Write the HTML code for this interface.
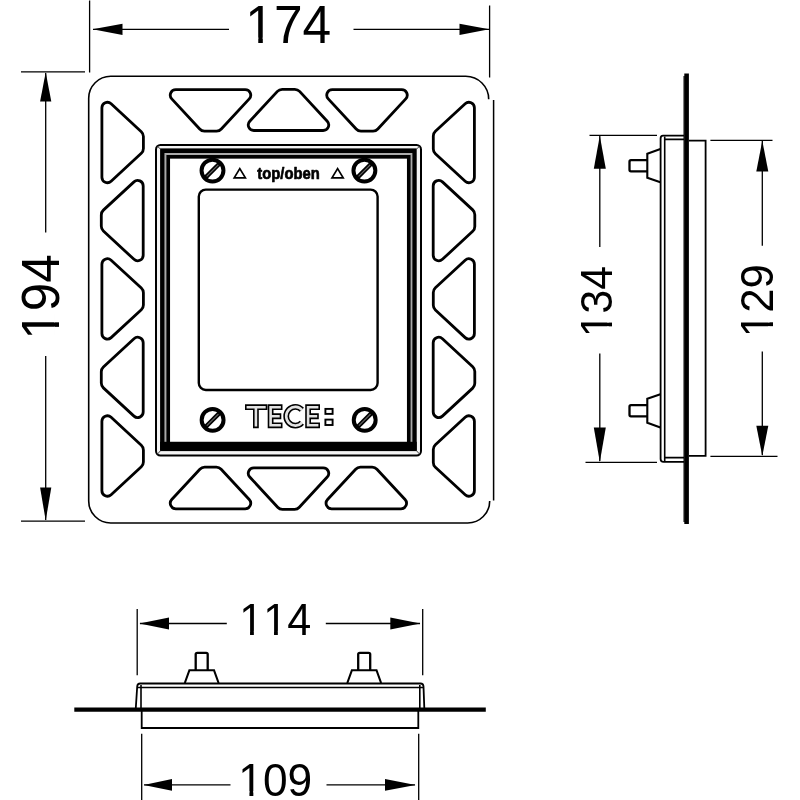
<!DOCTYPE html><html><head><meta charset="utf-8"><style>html,body{margin:0;padding:0;background:#fff}svg{display:block;will-change:transform}text{font-family:"Liberation Sans",sans-serif;fill:#000;font-kerning:none}</style></head><body>
<svg width="800" height="800" viewBox="0 0 800 800">
<rect width="800" height="800" fill="#fff"/>
<g fill="none" stroke="#000" stroke-linecap="butt">
<path d="M488.7,99.3 A23,23 0 0 0 465.7,76.3 L110.7,76.3 A22,22 0 0 0 88.7,98.3 L88.7,501 A22,22 0 0 0 110.7,523 L467.7,523 A22,22 0 0 0 489.7,501" stroke-width="1.6"/>
<path d="M493.6,100 L493.6,500.5" stroke-width="1.5"/>
<path d="M101.90,107.80 A5.5,5.5 0 0 1 111.13,103.76 L141.31,131.68 A6.5,6.5 0 0 1 143.40,136.45 L143.40,148.55 A6.5,6.5 0 0 1 141.31,153.32 L111.13,181.24 A5.5,5.5 0 0 1 101.90,177.20 Z M143.20,185.90 A5.5,5.5 0 0 0 133.97,181.86 L103.39,210.15 A6.5,6.5 0 0 0 101.30,214.92 L101.30,226.28 A6.5,6.5 0 0 0 103.39,231.05 L133.97,259.34 A5.5,5.5 0 0 0 143.20,255.30 Z M101.90,264.20 A5.5,5.5 0 0 1 111.13,260.16 L141.31,288.08 A6.5,6.5 0 0 1 143.40,292.85 L143.40,304.95 A6.5,6.5 0 0 1 141.31,309.72 L111.13,337.64 A5.5,5.5 0 0 1 101.90,333.60 Z M143.20,342.70 A5.5,5.5 0 0 0 133.97,338.66 L103.39,366.95 A6.5,6.5 0 0 0 101.30,371.72 L101.30,383.08 A6.5,6.5 0 0 0 103.39,387.85 L133.97,416.14 A5.5,5.5 0 0 0 143.20,412.10 Z M101.90,421.30 A5.5,5.5 0 0 1 111.13,417.26 L141.31,445.18 A6.5,6.5 0 0 1 143.40,449.95 L143.40,462.05 A6.5,6.5 0 0 1 141.31,466.82 L111.13,494.74 A5.5,5.5 0 0 1 101.90,490.70 Z M474.40,107.80 A5.5,5.5 0 0 0 465.17,103.76 L435.39,131.31 A6.5,6.5 0 0 0 433.30,136.08 L433.30,148.92 A6.5,6.5 0 0 0 435.39,153.69 L465.17,181.24 A5.5,5.5 0 0 0 474.40,177.20 Z M433.20,185.90 A5.5,5.5 0 0 1 442.43,181.86 L472.71,209.87 A6.5,6.5 0 0 1 474.80,214.64 L474.80,226.56 A6.5,6.5 0 0 1 472.71,231.33 L442.43,259.34 A5.5,5.5 0 0 1 433.20,255.30 Z M474.40,264.20 A5.5,5.5 0 0 0 465.17,260.16 L435.39,287.71 A6.5,6.5 0 0 0 433.30,292.48 L433.30,305.32 A6.5,6.5 0 0 0 435.39,310.09 L465.17,337.64 A5.5,5.5 0 0 0 474.40,333.60 Z M433.20,342.70 A5.5,5.5 0 0 1 442.43,338.66 L472.71,366.67 A6.5,6.5 0 0 1 474.80,371.44 L474.80,383.36 A6.5,6.5 0 0 1 472.71,388.13 L442.43,416.14 A5.5,5.5 0 0 1 433.20,412.10 Z M474.40,421.30 A5.5,5.5 0 0 0 465.17,417.26 L435.39,444.81 A6.5,6.5 0 0 0 433.30,449.58 L433.30,462.42 A6.5,6.5 0 0 0 435.39,467.19 L465.17,494.74 A5.5,5.5 0 0 0 474.40,490.70 Z M175.80,89.60 A5.5,5.5 0 0 0 171.76,98.83 L199.68,129.01 A6.5,6.5 0 0 0 204.45,131.10 L216.55,131.10 A6.5,6.5 0 0 0 221.32,129.01 L249.24,98.83 A5.5,5.5 0 0 0 245.20,89.60 Z M253.80,130.50 A5.5,5.5 0 0 1 249.76,121.27 L277.40,91.39 A6.5,6.5 0 0 1 282.17,89.30 L294.83,89.30 A6.5,6.5 0 0 1 299.60,91.39 L327.24,121.27 A5.5,5.5 0 0 1 323.20,130.50 Z M332.30,89.60 A5.5,5.5 0 0 0 328.26,98.83 L356.18,129.01 A6.5,6.5 0 0 0 360.95,131.10 L373.05,131.10 A6.5,6.5 0 0 0 377.82,129.01 L405.74,98.83 A5.5,5.5 0 0 0 401.70,89.60 Z M175.80,508.80 A5.5,5.5 0 0 1 171.76,499.57 L199.86,469.19 A6.5,6.5 0 0 1 204.63,467.10 L216.37,467.10 A6.5,6.5 0 0 1 221.14,469.19 L249.24,499.57 A5.5,5.5 0 0 1 245.20,508.80 Z M253.80,467.80 A5.5,5.5 0 0 0 249.76,477.03 L277.68,507.21 A6.5,6.5 0 0 0 282.45,509.30 L294.55,509.30 A6.5,6.5 0 0 0 299.32,507.21 L327.24,477.03 A5.5,5.5 0 0 0 323.20,467.80 Z M331.60,508.80 A5.5,5.5 0 0 1 327.56,499.57 L355.66,469.19 A6.5,6.5 0 0 1 360.43,467.10 L372.17,467.10 A6.5,6.5 0 0 1 376.94,469.19 L405.04,499.57 A5.5,5.5 0 0 1 401.00,508.80 Z" stroke-width="2.8"/>
<rect x="156.0" y="144.9" width="265.0" height="310.7" rx="4.5" ry="4.5" stroke-width="2.0" fill="#f4f4f4"/>
<rect x="162.4" y="150.7" width="252.0" height="297.9" stroke-width="4.6" fill="#fff"/>
<rect x="165.7" y="153.95" width="245.7" height="292" stroke="#a8a8a8" stroke-width="1.8"/>
<rect x="168.2" y="156.8" width="240.6" height="287.0" stroke-width="3.7"/>
<rect x="160.1" y="441.8" width="256.6" height="9.3" fill="#000" stroke="none"/>
<path d="M157.2,146.1 L160.6,149.2 M419.8,146.1 L416.4,149.2 M157.2,454.4 L160.6,450.6 M419.8,454.4 L416.4,450.6" stroke-width="0.9" stroke="#333"/>
<rect x="198.8" y="189.6" width="178.8" height="200.4" rx="7" ry="7" stroke-width="2.4"/>
</g>
<circle cx="212.5" cy="170.6" r="10.95" fill="#fff" stroke="#000" stroke-width="4.0"/><line x1="205.2" y1="177.9" x2="219.8" y2="163.29999999999998" stroke="#000" stroke-width="4.4"/><line x1="206.7" y1="176.4" x2="218.3" y2="164.79999999999998" stroke="#666" stroke-width="1.2"/>
<circle cx="364.4" cy="170.6" r="10.95" fill="#fff" stroke="#000" stroke-width="4.0"/><line x1="357.09999999999997" y1="177.9" x2="371.7" y2="163.29999999999998" stroke="#000" stroke-width="4.4"/><line x1="358.59999999999997" y1="176.4" x2="370.2" y2="164.79999999999998" stroke="#666" stroke-width="1.2"/>
<circle cx="212.6" cy="419.9" r="10.95" fill="#fff" stroke="#000" stroke-width="4.0"/><line x1="205.29999999999998" y1="427.2" x2="219.9" y2="412.59999999999997" stroke="#000" stroke-width="4.4"/><line x1="206.79999999999998" y1="425.7" x2="218.4" y2="414.09999999999997" stroke="#666" stroke-width="1.2"/>
<circle cx="364.7" cy="419.9" r="10.95" fill="#fff" stroke="#000" stroke-width="4.0"/><line x1="357.4" y1="427.2" x2="372.0" y2="412.59999999999997" stroke="#000" stroke-width="4.4"/><line x1="358.9" y1="425.7" x2="370.5" y2="414.09999999999997" stroke="#666" stroke-width="1.2"/>
<g fill="#fff" stroke="#000" stroke-width="1.7" stroke-linejoin="miter">
<path d="M234.2,177.8 L245.4,177.8 L239.8,168.6 Z"/>
<path d="M332.0,177.8 L343.2,177.8 L337.6,168.6 Z"/>
</g>
<g transform="translate(257.35,178.88) scale(0.0740,0.0861)"><text font-size="200" font-weight="bold" stroke="#000" stroke-width="8" stroke-linejoin="round">top/oben</text></g>
<path d="M247.9,407.2 L264.40000000000003,407.2 M255.9,407.2 L255.9,425.3 M279.6,407.2 L270.59999999999997,407.2 L270.59999999999997,425.3 L279.6,425.3 M270.59999999999997,416.25 L278.40000000000003,416.25 M317.1,407.2 L308.09999999999997,407.2 L308.09999999999997,425.3 L317.1,425.3 M308.09999999999997,416.25 L315.90000000000003,416.25" fill="none" stroke="#000" stroke-width="5.8" stroke-linecap="square" stroke-linejoin="miter"/><path d="M301.85,409.75 A9.1,9.35 0 1 0 301.85,422.75" fill="none" stroke="#000" stroke-width="5.8" stroke-linecap="butt"/><path d="M247.9,407.2 L264.40000000000003,407.2 M255.9,407.2 L255.9,425.3 M279.6,407.2 L270.59999999999997,407.2 L270.59999999999997,425.3 L279.6,425.3 M270.59999999999997,416.25 L278.40000000000003,416.25 M317.1,407.2 L308.09999999999997,407.2 L308.09999999999997,425.3 L317.1,425.3 M308.09999999999997,416.25 L315.90000000000003,416.25" fill="none" stroke="#e2e2e2" stroke-width="2.6" stroke-linecap="square" stroke-linejoin="miter"/><path d="M302.17,410.12 A9.1,9.35 0 1 0 302.17,422.38" fill="none" stroke="#e2e2e2" stroke-width="2.6" stroke-linecap="butt"/><rect x="325.4" y="408.9" width="7.2" height="5.0" fill="#fff" stroke="#000" stroke-width="1.9"/><rect x="325.4" y="419.6" width="7.2" height="5.4" fill="#fff" stroke="#000" stroke-width="1.9"/>
<g stroke="#000" stroke-width="1.3" fill="none">
<path d="M89.6,0.6 L89.6,72.6 M489.6,5.5 L489.6,77.5"/>
<path d="M93,29.3 L229,29.3 M353.5,29.3 L489,29.3"/>
<path d="M21,71.9 L85,71.9 M21,521.2 L85,521.2"/>
<path d="M45.7,73 L45.7,232.5 M45.7,356 L45.7,520"/>
</g>
<g fill="#000">
<path d="M92.6,29.3 L122.5,23.7 L122.5,34.9 Z"/>
<path d="M489.2,29.3 L459.5,23.7 L459.5,34.9 Z"/>
<path d="M45.7,72.3 L40.1,101.5 L51.3,101.5 Z"/>
<path d="M45.7,520.6 L40.1,487.5 L51.3,487.5 Z"/>
</g>
<g transform="translate(245.31,42.50) scale(0.2575,0.2696)"><text font-size="200" font-weight="normal" >174</text><rect x="10.74" y="-18.94" width="39.55" height="24.94" fill="#fff"/><rect x="67.97" y="-18.94" width="37.99" height="24.94" fill="#fff"/></g>
<g transform="translate(59.26,339.78) rotate(-90) scale(0.2568,0.2711)"><text font-size="200" font-weight="normal">194</text><rect x="10.74" y="-18.94" width="39.55" height="24.94" fill="#fff"/><rect x="67.97" y="-18.94" width="37.99" height="24.94" fill="#fff"/></g>
<g stroke="#000" fill="none" stroke-width="1.8">
<path d="M686.6,73.5 L686.6,524" stroke-width="4.6"/>
<path d="M684.1,76 L684.1,522" stroke-width="1.2"/>
<path d="M684,135.7 L663,135.7 Q660.6,135.7 660.6,138.5 L660.6,459 Q660.6,461.9 663.5,461.9 L684,461.9"/>
<path d="M684,139.4 L664.7,139.4 M664.7,136.5 L664.7,461 M664.7,457.6 L684,457.6" stroke-width="1.6"/>
<path d="M689,140.6 L705.6,140.6 L705.6,455.8 L689,455.8"/>
<path d="M647,160.1 L631,160.1 Q629.5,160.1 629.5,161.7 L629.5,169.7 Q629.5,171.29999999999998 631,171.29999999999998 L647,171.29999999999998" stroke-width="2.3"/><path d="M660.4,149.1 L647.3,153.7 L647.3,177.7 L660.4,182.29999999999998" stroke-width="2.1"/>
<path d="M647,405.2 L631,405.2 Q629.5,405.2 629.5,406.8 L629.5,414.8 Q629.5,416.40000000000003 631,416.40000000000003 L647,416.40000000000003" stroke-width="2.3"/><path d="M660.4,394.2 L647.3,398.8 L647.3,422.8 L660.4,427.40000000000003" stroke-width="2.1"/>
</g>
<g stroke="#000" stroke-width="1.3" fill="none">
<path d="M589.5,135.4 L657,135.4 M585.5,462.4 L657,462.4"/>
<path d="M710.4,140.3 L772.5,140.3 M710.4,456.3 L777.5,456.3"/>
<path d="M599.8,136 L599.8,247 M599.8,353.4 L599.8,461"/>
<path d="M762.3,141 L762.3,245.8 M762.3,351.5 L762.3,455"/>
</g>
<g fill="#000">
<path d="M599.8,135.8 L593.8,168.7 L605.8,168.7 Z"/>
<path d="M599.8,462 L593.8,427.6 L605.8,427.6 Z"/>
<path d="M762.3,140.8 L756.3,171.5 L768.3,171.5 Z"/>
<path d="M762.3,456 L756.3,425.7 L768.3,425.7 Z"/>
</g>
<g transform="translate(611.55,337.04) rotate(-90) scale(0.2127,0.2254)"><text font-size="200" font-weight="normal">134</text><rect x="10.74" y="-18.94" width="39.55" height="24.94" fill="#fff"/><rect x="67.97" y="-18.94" width="37.99" height="24.94" fill="#fff"/></g>
<g transform="translate(772.54,337.16) rotate(-90) scale(0.2187,0.2282)"><text font-size="200" font-weight="normal">129</text><rect x="10.74" y="-18.94" width="39.55" height="24.94" fill="#fff"/><rect x="67.97" y="-18.94" width="37.99" height="24.94" fill="#fff"/></g>
<g stroke="#000" fill="none" stroke-width="1.8">
<path d="M74.3,709.6 L485.8,709.6" stroke-width="4.4"/>
<path d="M135.8,708 L137.2,686.5 Q137.3,683.5 140.3,683.5 L420.5,683.5 Q423.4,683.5 423.5,686.5 L424.3,708"/>
<path d="M141,708 L141,685 M138,687.5 L423,687.5 M419.8,685 L419.8,708" stroke-width="1.6"/>
<path d="M141.7,711 L141.7,728 L418.3,728 L418.3,711"/>
<path d="M195.7,670 L195.7,654.3 Q195.7,652.8 197.29999999999998,652.8 L206.1,652.8 Q207.7,652.8 207.7,654.3 L207.7,670" stroke-width="2.3"/><path d="M184.79999999999998,683 L189.39999999999998,670.2 L214.0,670.2 L218.6,683" stroke-width="2.1"/>
<path d="M358.2,670 L358.2,654.3 Q358.2,652.8 359.8,652.8 L368.59999999999997,652.8 Q370.2,652.8 370.2,654.3 L370.2,670" stroke-width="2.3"/><path d="M347.3,683 L351.9,670.2 L376.5,670.2 L381.09999999999997,683" stroke-width="2.1"/>
</g>
<g stroke="#000" stroke-width="1.3" fill="none">
<path d="M137.2,609 L137.2,675.3 M422.7,609 L422.7,675.3"/>
<path d="M141.7,733.7 L141.7,800 M418.7,733.7 L418.7,800"/>
<path d="M140,623.5 L226.8,623.5 M325.8,623.5 L420,623.5"/>
<path d="M144,784.9 L230.5,784.9 M326.5,784.9 L415,784.9"/>
</g>
<g fill="#000">
<path d="M139.4,623.5 L169,617.6 L169,629.4 Z"/>
<path d="M420.4,623.5 L390.3,617.6 L390.3,629.4 Z"/>
<path d="M143.7,784.9 L172,779 L172,790.8 Z"/>
<path d="M415.6,784.9 L385,779 L385,790.8 Z"/>
</g>
<g transform="translate(239.20,635.00) scale(0.2156,0.2225)"><text font-size="200" font-weight="normal" >114</text><rect x="10.74" y="-18.94" width="39.55" height="24.94" fill="#fff"/><rect x="67.97" y="-18.94" width="37.99" height="24.94" fill="#fff"/><rect x="121.97" y="-18.94" width="39.55" height="24.94" fill="#fff"/><rect x="179.20" y="-18.94" width="37.99" height="24.94" fill="#fff"/></g>
<g transform="translate(238.29,795.54) scale(0.2213,0.2324)"><text font-size="200" font-weight="normal" >109</text><rect x="10.74" y="-18.94" width="39.55" height="24.94" fill="#fff"/><rect x="67.97" y="-18.94" width="37.99" height="24.94" fill="#fff"/></g>
</svg></body></html>
